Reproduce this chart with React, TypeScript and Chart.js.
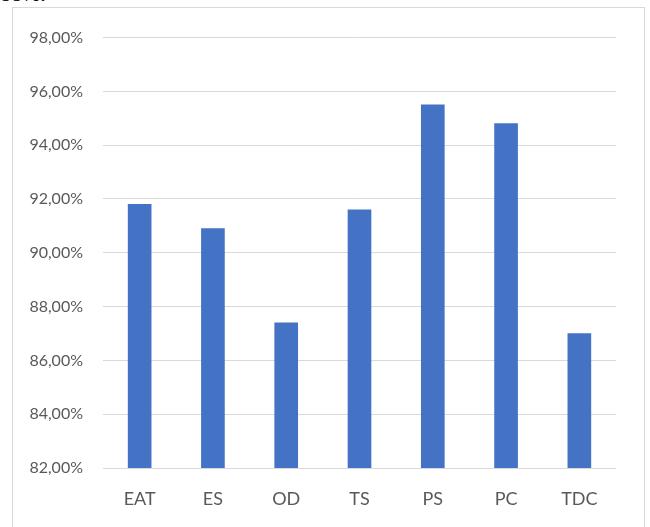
import React, { useEffect, useRef } from "react";
import { Chart, registerables } from "chart.js";

Chart.register(...registerables);

const categories = ["EAT", "ES", "OD", "TS", "PS", "PC", "TDC"];
const values = [91.8, 90.9, 87.4, 91.6, 95.5, 94.8, 87.0];
const yMin = 82;
const yMax = 98;
const yStep = 2;

export default function App() {
  const ref = useRef<HTMLCanvasElement | null>(null);

  useEffect(() => {
    if (!ref.current) return;
    const chart = new Chart(ref.current, {
      type: "bar",
      data: {
        labels: categories,
        datasets: [
          {
            data: values,
            backgroundColor: "#4472c4",
            borderWidth: 0,
            barThickness: 23,
          },
        ],
      },
      options: {
        animation: false,
        responsive: false,
        maintainAspectRatio: false,
        layout: { padding: { left: 0, right: 28, top: 29, bottom: 0 } },
        plugins: {
          legend: { display: false },
          tooltip: { enabled: false },
        },
        scales: {
          x: {
            grid: { display: false },
            border: { display: false },
            ticks: {
              color: "#595959",
              font: { family: "Lato", size: 18 },
              padding: 12,
            },
            afterFit: (s: any) => {
              s.height = 67;
            },
          },
          y: {
            min: yMin,
            max: yMax,
            grid: { color: "#d9d9d9", lineWidth: 1, drawTicks: false },
            border: { display: false },
            ticks: {
              stepSize: yStep,
              color: "#595959",
              font: { family: "Lato", size: 16 },
              padding: 20,
              callback: (v: any) => Number(v).toFixed(2).replace(".", ",") + "%",
            },
            afterFit: (s: any) => {
              s.width = 90;
            },
          },
        },
      },
    });
    return () => chart.destroy();
  }, []);

  return (
    <div>
      <div
        style={{
          position: "absolute",
          top: -19,
          left: 0,
          fontFamily: "serif",
          fontSize: 22,
          color: "#000",
          whiteSpace: "nowrap",
        }}
      >
        88%.
      </div>
      <div
        style={{
          position: "absolute",
          left: 12,
          top: 7,
          width: 631,
          height: 527,
          border: "1px solid #d9d9d9",
          background: "#fff",
        }}
      >
        <canvas ref={ref} width={631} height={527} style={{ display: "block" }} />
      </div>
    </div>
  );
}
